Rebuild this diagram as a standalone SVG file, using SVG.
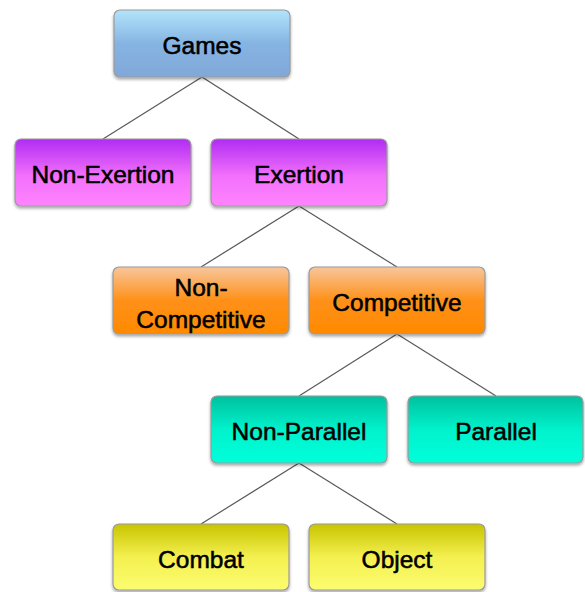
<svg xmlns="http://www.w3.org/2000/svg" width="585" height="592" viewBox="0 0 585 592">
<style>
.box{stroke:#9a9a9a;stroke-width:1.2;filter:url(#sh)}
.t{font-family:"Liberation Sans",Arial,sans-serif;font-size:24.5px;fill:#000;text-anchor:middle;stroke:#000;stroke-width:0.55}
.c line{stroke:#595959;stroke-width:1.2}
</style>
<defs>
<filter id="sh" x="-10%" y="-10%" width="120%" height="130%">
<feDropShadow dx="0" dy="2" stdDeviation="1.5" flood-color="#000" flood-opacity="0.35"/>
</filter>
<linearGradient id="gb" x1="0" y1="0" x2="0" y2="1">
<stop offset="0" stop-color="#b2e4fb"/><stop offset="0.5" stop-color="#86b4e2"/><stop offset="1" stop-color="#80a8d8"/>
</linearGradient>
<linearGradient id="gp" x1="0" y1="0" x2="0" y2="1">
<stop offset="0" stop-color="#b02cf2"/><stop offset="0.55" stop-color="#f270fb"/><stop offset="1" stop-color="#ff84ff"/>
</linearGradient>
<linearGradient id="go" x1="0" y1="0" x2="0" y2="1">
<stop offset="0" stop-color="#f7c69c"/><stop offset="0.5" stop-color="#ff9018"/><stop offset="1" stop-color="#ff8a00"/>
</linearGradient>
<linearGradient id="gt" x1="0" y1="0" x2="0" y2="1">
<stop offset="0" stop-color="#00c09e"/><stop offset="0.5" stop-color="#00f2cc"/><stop offset="1" stop-color="#00ffda"/>
</linearGradient>
<linearGradient id="gy" x1="0" y1="0" x2="0" y2="1">
<stop offset="0" stop-color="#c8c400"/><stop offset="0.5" stop-color="#f4f050"/><stop offset="1" stop-color="#fcfc70"/>
</linearGradient>
</defs>
<g id="connectors" class="c">
<line x1="202" y1="77" x2="103" y2="139"/>
<line x1="202" y1="77" x2="299" y2="139"/>
<line x1="299" y1="206" x2="201" y2="267"/>
<line x1="299" y1="206" x2="397" y2="267"/>
<line x1="397" y1="334" x2="299" y2="396"/>
<line x1="397" y1="334" x2="496" y2="396"/>
<line x1="299" y1="463" x2="201" y2="524"/>
<line x1="299" y1="463" x2="397" y2="524"/>
</g>
<g id="games"><rect class="box" x="114" y="10" width="176" height="67" rx="6" fill="url(#gb)"/><text class="t" x="202" y="54">Games</text></g>
<g id="non-exertion"><rect class="box" x="15" y="139" width="176" height="67" rx="6" fill="url(#gp)"/><text class="t" x="103" y="183">Non-Exertion</text></g>
<g id="exertion"><rect class="box" x="211" y="139" width="176" height="67" rx="6" fill="url(#gp)"/><text class="t" x="299" y="183">Exertion</text></g>
<g id="non-competitive"><rect class="box" x="113" y="267" width="176" height="67" rx="6" fill="url(#go)"/><text class="t" x="201" y="296">Non-</text><text class="t" x="201" y="328">Competitive</text></g>
<g id="competitive"><rect class="box" x="309" y="267" width="176" height="67" rx="6" fill="url(#go)"/><text class="t" x="397" y="311">Competitive</text></g>
<g id="non-parallel"><rect class="box" x="211" y="396" width="176" height="67" rx="6" fill="url(#gt)"/><text class="t" x="299" y="440">Non-Parallel</text></g>
<g id="parallel"><rect class="box" x="408" y="396" width="175" height="67" rx="6" fill="url(#gt)"/><text class="t" x="496" y="440">Parallel</text></g>
<g id="combat"><rect class="box" x="113" y="524" width="176" height="66" rx="6" fill="url(#gy)"/><text class="t" x="201" y="568">Combat</text></g>
<g id="object"><rect class="box" x="309" y="524" width="176" height="66" rx="6" fill="url(#gy)"/><text class="t" x="397" y="568">Object</text></g>
</svg>
